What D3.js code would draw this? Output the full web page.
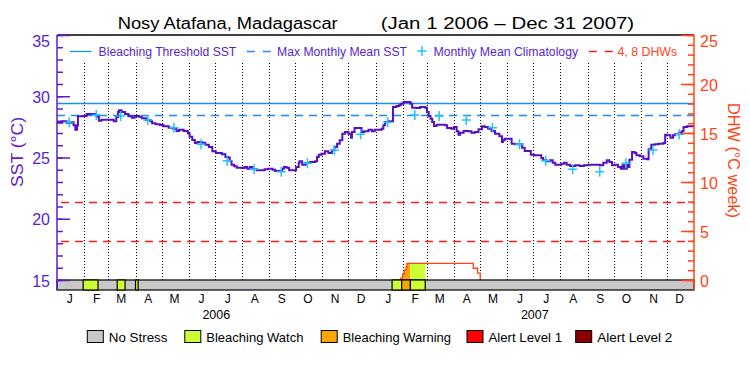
<!DOCTYPE html>
<html lang="en">
<head>
<meta charset="UTF-8">
<title>Nosy Atafana SST / DHW</title>
<script src="https://d3js.org/d3.v7.min.js"></script>
<style>
  body { margin: 0; background: #fff; }
  svg text { font-family: "Liberation Sans", Arial, sans-serif; }
</style>
</head>
<body>
<svg id="chart" width="750" height="375"></svg>
<script>
// SST step series, days since 2006-01-01
const sstDay = [0, 6, 11, 17, 19, 21, 23, 24, 30, 34, 44, 47, 48, 51, 65, 68, 70, 71, 74, 78,
  82, 86, 89, 94, 97, 102, 107, 109, 113, 118, 122, 128, 133, 137, 140, 145, 150, 152, 155, 158,
  161, 166, 170, 174, 178, 182, 189, 193, 196, 198, 200, 203, 206, 212, 215, 218, 221, 224, 229, 238,
  242, 247, 250, 258, 260, 263, 266, 274, 277, 278, 281, 285, 290, 296, 298, 300, 303, 307, 311, 315,
  318, 321, 324, 327, 330, 334, 337, 338, 341, 349, 352, 357, 361, 364, 372, 374, 376, 380, 385, 389,
  392, 394, 397, 405, 407, 412, 416, 422, 424, 426, 428, 430, 432, 435, 445, 447, 452, 455, 458, 460,
  462, 466, 471, 475, 479, 483, 487, 490, 494, 498, 502, 507, 510, 511, 513, 521, 525, 533, 536, 543,
  547, 555, 557, 561, 565, 568, 571, 578, 581, 584, 588, 594, 599, 604, 609, 622, 626, 630, 633, 636,
  639, 643, 646, 648, 650, 653, 655, 656, 659, 662, 664, 668, 672, 676, 678, 681, 685, 689, 695, 697,
  699, 703, 706, 708, 713, 716, 718, 722, 730];
const sstVal = [27.84, 27.95, 27.84, 27.90, 27.63, 27.27, 27.63, 28.36, 28.39, 28.55, 28.44, 28.33, 28.00, 28.09, 27.95, 28.31, 28.71, 28.85, 28.71, 28.55,
  28.36, 28.25, 28.39, 28.33, 28.20, 28.06, 27.95, 27.79, 27.71, 27.65, 27.55, 27.43, 27.35, 27.16, 27.27, 27.16, 26.98, 26.70, 26.43, 26.18,
  26.27, 26.21, 26.05, 25.86, 25.51, 25.37, 25.26, 25.04, 25.00, 24.71, 24.41, 24.28, 24.17, 24.15, 24.22, 24.09, 24.22, 24.04, 23.96, 24.04,
  24.09, 24.00, 23.90, 24.09, 24.22, 24.17, 23.96, 24.22, 24.58, 24.69, 24.41, 24.55, 24.63, 24.69, 25.04, 25.23, 25.31, 25.51, 25.37, 25.59,
  25.86, 26.13, 26.40, 26.94, 27.08, 26.94, 26.62, 27.08, 27.41, 27.08, 27.14, 27.27, 27.14, 27.27, 27.35, 27.63, 27.90, 27.95, 29.12, 29.20,
  29.26, 29.39, 29.53, 29.39, 29.07, 29.04, 29.12, 29.07, 28.71, 28.39, 28.17, 27.90, 27.57, 27.68, 27.63, 27.41, 27.35, 27.49, 27.14, 26.86,
  27.02, 27.16, 27.14, 27.02, 27.08, 27.30, 27.55, 27.49, 27.35, 27.16, 26.94, 26.73, 26.27, 26.40, 26.53, 26.13, 26.08, 25.80, 25.53, 25.23,
  25.18, 24.96, 24.77, 24.69, 24.77, 24.58, 24.41, 24.49, 24.58, 24.41, 24.31, 24.36, 24.31, 24.36, 24.41, 24.36, 24.58, 24.77, 24.63, 24.36,
  24.41, 24.22, 24.09, 24.36, 24.09, 24.49, 24.22, 24.82, 25.45, 25.37, 25.18, 25.10, 24.90, 24.85, 25.67, 26.05, 26.08, 26.13, 26.18, 26.86,
  26.82, 26.62, 26.82, 26.89, 27.02, 27.14, 27.49, 27.55, 27.55];

// monthly mean climatology, Jan..Dec
const climVal = [27.87, 28.47, 28.39, 28.06, 27.43, 26.08, 24.74, 24.04, 23.84, 24.53, 25.61, 26.89];
const mmm = 28.44;
const bleachThreshold = 29.44;
const dhwRefs = [4, 8];

// degree heating weeks
const dhwDay = [394, 394, 396, 398, 400, 401, 477, 482, 485];
const dhwVal = [0, 0.2, 0.6, 1.0, 1.36, 1.7, 1.2, 0.7, 0];

// stress periods (level index into stressNames)
const stressStart = [30, 69, 90, 384, 395, 405];
const stressEnd = [47, 78, 93, 395, 405, 422];
const stressLevel = [1, 1, 1, 1, 2, 1];
const stressNames = ["No Stress", "Bleaching Watch", "Bleaching Warning", "Alert Level 1", "Alert Level 2"];
const stressColors = ["#c8c8c8", "#ccff33", "#ffa500", "#ff0000", "#8b0000"];

const monthLabels = ["J", "F", "M", "A", "M", "J", "J", "A", "S", "O", "N", "D"];
const years = [2006, 2007];
const sstTicks = [15, 20, 25, 30, 35];
const dhwTicks = [0, 5, 10, 15, 20, 25];

const svg = d3.select("#chart");
const t0 = new Date(2006, 0, 1);
const t1 = new Date(2008, 0, 1);
const day = d => d3.timeDay.offset(t0, d);
const crisp = v => Math.round(v) + 0.5;

const pL = 57, pR = 694, pT = 35, pB = 280, barH = 10;
const purple = "#5a1ecf", sstColor = "#5510c4", orange = "#ff4418", red = "#ff1c1c",
      blue = "#1e8cf0", cyan = "#1ec3ff";

const x = d3.scaleTime().domain([t0, t1]).range([pL, pR]);
const ySst = d3.scaleLinear().domain([15, 35]).range([pB, pT]);
const yDhw = d3.scaleLinear().domain([0, 25]).range([pB, pT]);

// title
svg.append("text").attr("x", 117.7).attr("y", 29).attr("font-size", 16)
    .attr("textLength", 220).attr("lengthAdjust", "spacingAndGlyphs")
    .text("Nosy Atafana, Madagascar");
svg.append("text").attr("x", 380.7).attr("y", 29).attr("font-size", 16)
    .attr("textLength", 253.5).attr("lengthAdjust", "spacingAndGlyphs")
    .text("(Jan 1 2006 – Dec 31 2007)");

// month separators
svg.append("g").selectAll("line")
    .data(d3.timeMonth.range(d3.timeMonth.offset(t0, 1), t1))
    .join("line")
    .attr("x1", d => crisp(x(d))).attr("x2", d => crisp(x(d)))
    .attr("y1", 63).attr("y2", pB)
    .attr("stroke", "#000").attr("stroke-dasharray", "1,2");

// reference lines
svg.append("line").attr("x1", pL).attr("x2", pR)
    .attr("y1", crisp(ySst(bleachThreshold))).attr("y2", crisp(ySst(bleachThreshold)))
    .attr("stroke", blue).attr("stroke-width", 1.3);
svg.append("line").attr("x1", pL).attr("x2", pR)
    .attr("y1", crisp(ySst(mmm))).attr("y2", crisp(ySst(mmm)))
    .attr("stroke", blue).attr("stroke-width", 1.3).attr("stroke-dasharray", "8,6");
svg.append("g").selectAll("line").data(dhwRefs).join("line")
    .attr("x1", pL + 4).attr("x2", pR)
    .attr("y1", d => crisp(yDhw(d))).attr("y2", d => crisp(yDhw(d)))
    .attr("stroke", red).attr("stroke-width", 1.3).attr("stroke-dasharray", "8,6");

// DHW area, coloured by stress level
const dhwPts = dhwDay.map((d, i) => ({t: day(d), v: dhwVal[i]}));
const defs = svg.append("defs");
stressStart.forEach((s, i) => {
  defs.append("clipPath").attr("id", "clip" + i).append("rect")
      .attr("x", x(day(s))).attr("width", x(day(stressEnd[i])) - x(day(s)))
      .attr("y", 0).attr("height", pB);
  svg.append("path").datum(dhwPts)
      .attr("d", d3.area().x(d => x(d.t)).y0(yDhw(0)).y1(d => yDhw(d.v)).curve(d3.curveStepAfter))
      .attr("fill", stressColors[stressLevel[i]])
      .attr("clip-path", `url(#clip${i})`);
});
svg.append("path").datum(dhwPts)
    .attr("d", d3.line().x(d => x(d.t)).y(d => yDhw(d.v)).curve(d3.curveStepAfter))
    .attr("fill", "none").attr("stroke", orange).attr("stroke-width", 1.3);

// SST line
const sstPts = sstDay.map((d, i) => ({t: day(d), v: sstVal[i]}));
svg.append("path").datum(sstPts)
    .attr("d", d3.line().x(d => x(d.t)).y(d => ySst(d.v)).curve(d3.curveStepAfter))
    .attr("fill", "none").attr("stroke", sstColor).attr("stroke-width", 2);

// climatology crosses
const climPts = d3.timeMonth.range(t0, t1).map(m => ({t: d3.timeDay.offset(m, 14), v: climVal[m.getMonth()]}));
svg.append("g").selectAll("path").data(climPts).join("path")
    .attr("transform", d => `translate(${x(d.t)},${ySst(d.v)})`)
    .attr("d", "M-4.5,0H4.5M0,-5V5")
    .attr("stroke", cyan).attr("stroke-width", 1.5);

// stress bar
svg.append("rect").attr("x", pL).attr("y", pB).attr("width", pR - pL).attr("height", barH)
    .attr("fill", stressColors[0]).attr("stroke", "#000").attr("stroke-width", 1.2);
svg.append("g").selectAll("rect")
    .data(stressStart.map((s, i) => ({s, e: stressEnd[i], lvl: stressLevel[i]})))
    .join("rect")
    .attr("x", d => x(day(d.s))).attr("width", d => x(day(d.e)) - x(day(d.s)))
    .attr("y", pB).attr("height", barH)
    .attr("fill", d => stressColors[d.lvl]).attr("stroke", "#000").attr("stroke-width", 1.2);

// frame
svg.append("line").attr("x1", pL).attr("x2", pR).attr("y1", pT).attr("y2", pT)
    .attr("stroke", "#000").attr("stroke-width", 1.3);

function styleAxis(g, color) {
  g.attr("color", color).attr("font-family", null).attr("font-size", null);
  g.select(".domain").remove();
  g.selectAll(".tick line").attr("stroke-width", 1.5);
}

// left axis
svg.append("g").attr("transform", `translate(${pL},0)`)
    .call(d3.axisLeft(ySst).tickValues(d3.range(15, 36)).tickSize(-6).tickFormat(""))
    .call(g => styleAxis(g, purple));
svg.append("g").attr("transform", `translate(${pL},0)`)
    .call(d3.axisLeft(ySst).tickValues(sstTicks).tickSize(-13).tickPadding(7))
    .call(g => styleAxis(g, purple))
    .call(g => g.selectAll(".tick text").attr("font-size", 16).attr("fill", purple)
        .attr("y", d => d === 35 ? 6 : 1));
svg.append("line").attr("x1", pL).attr("x2", pL).attr("y1", pT).attr("y2", pB + barH)
    .attr("stroke", purple).attr("stroke-width", 1.5);

// right axis
svg.append("g").attr("transform", `translate(${pR},0)`)
    .call(d3.axisRight(yDhw).tickValues(d3.range(0, 26)).tickSize(-6).tickFormat(""))
    .call(g => styleAxis(g, orange));
svg.append("g").attr("transform", `translate(${pR},0)`)
    .call(d3.axisRight(yDhw).tickValues(dhwTicks).tickSize(-13).tickPadding(6))
    .call(g => styleAxis(g, orange))
    .call(g => g.selectAll(".tick text").attr("font-size", 16).attr("fill", orange)
        .attr("y", d => d === 25 ? 6 : 1));
svg.append("line").attr("x1", pR).attr("x2", pR).attr("y1", pT).attr("y2", pB + barH)
    .attr("stroke", orange).attr("stroke-width", 1.5);

// axis titles
svg.append("text").attr("transform", "translate(22.5,152) rotate(-90)")
    .attr("text-anchor", "middle").attr("font-size", 16).attr("fill", purple)
    .attr("textLength", 70).attr("lengthAdjust", "spacingAndGlyphs").text("SST (°C)");
svg.append("text").attr("transform", "translate(727.5,160.5) rotate(90)")
    .attr("text-anchor", "middle").attr("font-size", 16).attr("fill", orange)
    .attr("textLength", 115).attr("lengthAdjust", "spacingAndGlyphs").text("DHW (°C week)");

// month and year labels
const mids = d3.timeMonth.range(t0, t1).map(m => d3.timeDay.offset(m, 14));
svg.append("g").attr("transform", "translate(0,294.5)")
    .call(d3.axisBottom(x).tickValues(mids).tickSize(0).tickPadding(0)
        .tickFormat(d => monthLabels[d.getMonth()]))
    .call(g => { g.select(".domain").remove(); g.attr("font-family", null).attr("font-size", 12); });
svg.append("g").attr("transform", "translate(0,310.5)")
    .call(d3.axisBottom(x).tickValues(years.map(y => new Date(y, 6, 2))).tickSize(0).tickPadding(0)
        .tickFormat(d3.timeFormat("%Y")))
    .call(g => { g.select(".domain").remove(); g.attr("font-family", null).attr("font-size", 12.5); });

// top legend
const tl = svg.append("g");
tl.append("line").attr("x1", 70).attr("x2", 91.4).attr("y1", 51.5).attr("y2", 51.5)
    .attr("stroke", blue).attr("stroke-width", 1.3);
tl.append("text").attr("x", 98.6).attr("y", 56).attr("font-size", 12.5).attr("fill", purple)
    .attr("textLength", 137.7).attr("lengthAdjust", "spacingAndGlyphs").text("Bleaching Threshold SST");
tl.append("line").attr("x1", 246.8).attr("x2", 270.8).attr("y1", 51.5).attr("y2", 51.5)
    .attr("stroke", blue).attr("stroke-width", 1.3).attr("stroke-dasharray", "8,8");
tl.append("text").attr("x", 277).attr("y", 56).attr("font-size", 12.5).attr("fill", purple)
    .attr("textLength", 130).attr("lengthAdjust", "spacingAndGlyphs").text("Max Monthly Mean SST");
tl.append("path").attr("transform", "translate(422,51)").attr("d", "M-4.5,0H4.5M0,-5V5")
    .attr("stroke", cyan).attr("stroke-width", 1.5);
tl.append("text").attr("x", 433.4).attr("y", 56).attr("font-size", 12.5).attr("fill", purple)
    .attr("textLength", 144.8).attr("lengthAdjust", "spacingAndGlyphs").text("Monthly Mean Climatology");
tl.append("line").attr("x1", 588.8).attr("x2", 612.7).attr("y1", 51.5).attr("y2", 51.5)
    .attr("stroke", red).attr("stroke-width", 1.3).attr("stroke-dasharray", "8,8");
tl.append("text").attr("x", 617.4).attr("y", 56).attr("font-size", 12.5).attr("fill", orange)
    .attr("textLength", 59.8).attr("lengthAdjust", "spacingAndGlyphs").text("4, 8 DHWs");

// stress legend
const legX = [87.3, 184.8, 321.2, 467, 575.7];
const legW = [58.7, 97.1, 108.3, 73.5, 75.2];
const bl = svg.append("g").selectAll("g").data(stressNames).join("g")
    .attr("transform", (d, i) => `translate(${legX[i]},330.5)`);
bl.append("rect").attr("width", 16).attr("height", 12)
    .attr("fill", (d, i) => stressColors[i]).attr("stroke", "#000").attr("stroke-width", 1);
bl.append("text").attr("x", 21.5).attr("y", 11.5).attr("font-size", 13.5)
    .attr("textLength", (d, i) => legW[i]).attr("lengthAdjust", "spacingAndGlyphs")
    .text(d => d);
</script>
</body>
</html>
